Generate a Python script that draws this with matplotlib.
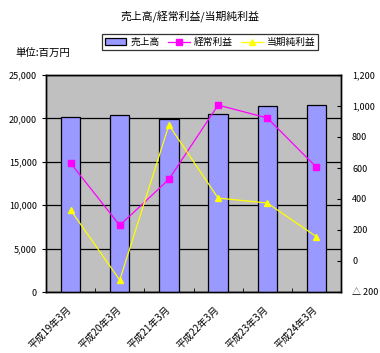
import matplotlib
matplotlib.use("Agg")
import matplotlib.pyplot as plt
from matplotlib.ticker import FuncFormatter

plt.rcParams["font.family"] = ["Noto Sans CJK JP", "DejaVu Sans"]

periods = ["平成19年3月", "平成20年3月", "平成21年3月", "平成22年3月", "平成23年3月", "平成24年3月"]
sales = [20200, 20350, 19930, 20540, 21430, 21580]
ordinary_profit = [632, 230, 527, 1006, 923, 605]
net_profit = [329, -123, 877, 406, 374, 157]


def right_fmt(v, _):
    if v < 0:
        return f"△ {abs(v):,.0f}"
    return f"{v:,.0f}"


fig = plt.figure(figsize=(3.8, 3.53), dpi=100)
ax = fig.add_axes([46 / 380, 1 - 292 / 353, 295 / 380, 217 / 353])
ax.set_facecolor("#c0c0c0")
x = list(range(len(periods)))

bars = ax.bar(x, sales, width=0.39, color="#9999ff", edgecolor="black",
              linewidth=0.9, zorder=3, label="売上高")
ax.set_xlim(-0.5, len(periods) - 0.5)
ax.set_ylim(0, 25000)
ax.set_yticks(range(0, 25001, 5000))
ax.yaxis.set_major_formatter(FuncFormatter(lambda v, _: f"{v:,.0f}"))
ax.grid(axis="y", color="black", linewidth=0.9, zorder=1)
ax.set_xticks([i - 0.08 for i in x])
ax.set_xticklabels(periods, rotation=45, ha="right", rotation_mode="anchor", fontsize=7)
ax.set_xticks([i + 0.5 for i in x[:-1]], minor=True)
ax.tick_params(axis="x", which="major", length=0, pad=9)
ax.tick_params(axis="x", which="minor", direction="in", length=3)
ax.tick_params(axis="y", labelsize=6.5, length=3, direction="out")

ax2 = ax.twinx()
ax2.set_ylim(-200, 1200)
ax2.set_yticks(range(-200, 1201, 200))
ax2.yaxis.set_major_formatter(FuncFormatter(right_fmt))
ax2.tick_params(axis="y", labelsize=6.5, length=3, direction="in", pad=8)
l1, = ax2.plot(x, ordinary_profit, color="#ff00ff", marker="s", markersize=4,
               linewidth=0.9, label="経常利益", zorder=4)
l2, = ax2.plot(x, net_profit, color="#ffff00", marker="^", markersize=5,
               linewidth=0.9, label="当期純利益", zorder=4)

for a in (ax, ax2):
    for s in a.spines.values():
        s.set_linewidth(1.0)

fig.text(190 / 380, 1 - 17 / 353, "売上高/経常利益/当期純利益", ha="center", va="center", fontsize=7.8)
fig.text(15 / 380, 1 - 53 / 353, "単位:百万円", ha="left", va="center", fontsize=7.5)

leg = fig.legend([bars, l1, l2], ["売上高", "経常利益", "当期純利益"], loc="center",
                 bbox_to_anchor=(210 / 380, 1 - 42 / 353), ncol=3, fontsize=7,
                 frameon=True, fancybox=False, edgecolor="black", handlelength=2.2,
                 columnspacing=0.9, borderpad=0.3, handletextpad=0.4)
leg.get_frame().set_linewidth(0.9)

fig.savefig("out.png", dpi=100)
